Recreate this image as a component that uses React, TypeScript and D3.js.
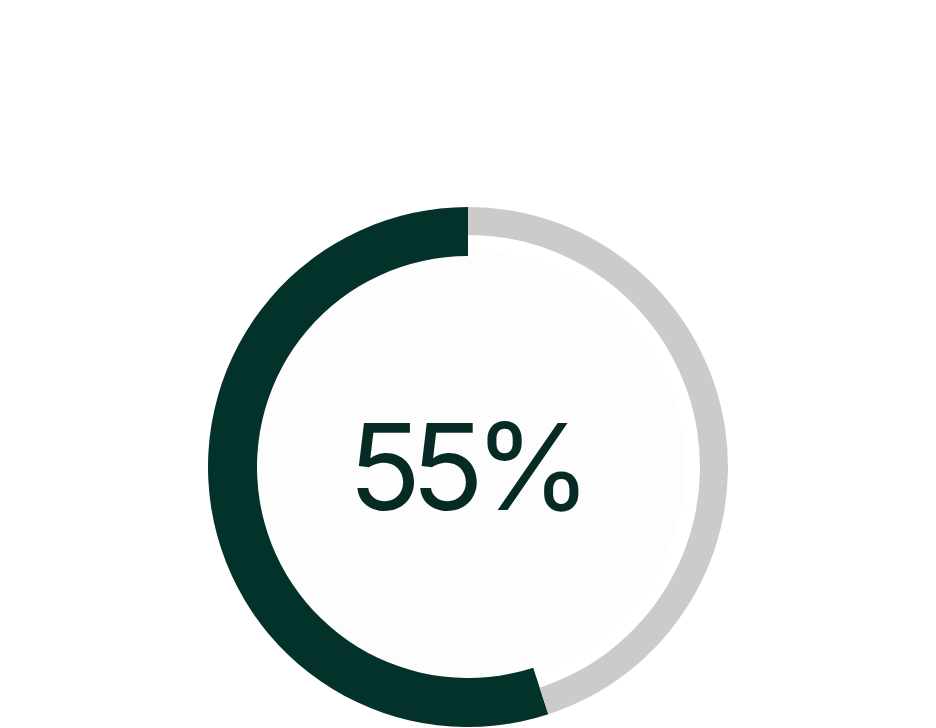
import { useEffect, useRef } from 'react';
import * as d3 from 'd3';

// progress donut: one value out of a total
const labels = ['done', 'rest'];
const values = [55, 45];
const total = 100;

const width = 936;
const height = 728;
const cx = 468;
const cy = 467;
const outer = 260;
const innerDone = 211;
const innerRest = 232;

const doneColor = '#03322a';
const restColor = '#cbcbcb';
const textColor = '#062a24';

export default function App() {
  const ref = useRef<SVGSVGElement>(null);

  useEffect(() => {
    const svg = d3.select(ref.current);
    svg.selectAll('*').remove();

    const g = svg.append('g').attr('transform', `translate(${cx},${cy})`);

    // faint inner disk
    g.append('circle').attr('r', 217).attr('fill', '#fdfdfd');

    // counter-clockwise from 12 o'clock
    const pie = d3
      .pie<number>()
      .sort(null)
      .value((d) => d)
      .startAngle(0)
      .endAngle(-2 * Math.PI);

    const arcs = pie(values);

    const arc = d3
      .arc<d3.PieArcDatum<number>>()
      .outerRadius(outer)
      .innerRadius((d) => (d.index === 0 ? innerDone : innerRest));

    g.selectAll('path')
      .data(arcs)
      .join('path')
      .attr('class', (_, i) => labels[i])
      .attr('d', arc)
      .attr('fill', (_, i) => (i === 0 ? doneColor : restColor));

    const pct = d3.format('.0%')(values[0] / total);

    g.append('text')
      .attr('x', -3)
      .attr('y', 43)
      .attr('text-anchor', 'middle')
      .attr('font-family', 'Inter, Roboto, sans-serif')
      .attr('font-size', 120)
      .attr('font-weight', 400)
      .attr('letter-spacing', -10)
      .attr('fill', textColor)
      .text(pct);
  }, []);

  return (
    <svg
      ref={ref}
      width={width}
      height={height}
      style={{ position: 'absolute', left: 0, top: 0, background: '#fff' }}
    />
  );
}
